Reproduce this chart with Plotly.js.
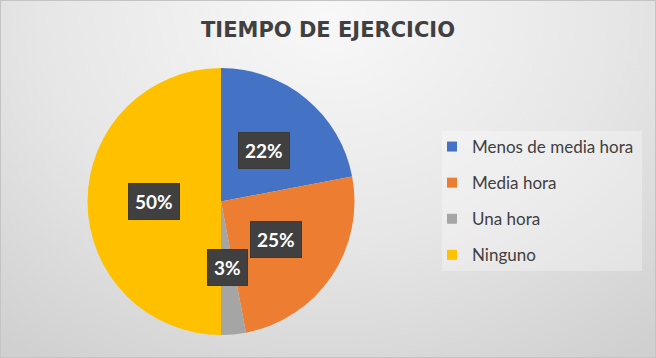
<!DOCTYPE html>
<html>
<head>
<meta charset="utf-8">
<script src="https://cdn.plot.ly/plotly-3.0.1.min.js"></script>
<style>
  html, body { margin: 0; padding: 0; }
  body { width: 656px; height: 358px; overflow: hidden; }
  #frame {
    position: absolute; left: 0; top: 0; width: 654px; height: 356px;
    border: 1px solid #c4c4c4;
    background: radial-gradient(ellipse 80% 115% at 50% 5%, #f8f8f8 0%, #e6e6e6 55%, #d0d0d0 100%);
  }
  #chart { position: absolute; left: -1px; top: -1px; width: 656px; height: 358px; }
</style>
</head>
<body>
<div id="frame"><div id="chart"></div></div>
<script>
// ---- data ----
const categories = ["Menos de media hora", "Media hora", "Una hora", "Ninguno"];
const values = [22, 25, 3, 50];
const colors = ["#4472C4", "#ED7D31", "#A5A5A5", "#FFC000"];
const titleText = "TIEMPO DE EJERCICIO";

// ---- geometry ----
const W = 656, H = 358;
const cx = 221, cy = 201.5, R = 133.5;
const domX = [(cx - R) / W, (cx + R) / W];
const domY = [1 - (cy + R) / H, 1 - (cy - R) / H];

const total = values.reduce((a, b) => a + b, 0);

// percentage label boxes, placed at mid-angle of each slice
const annotations = [];
let cum = 0;
values.forEach((v, i) => {
  const mid = (cum + v / 2) / total * 2 * Math.PI;
  cum += v;
  const rr = 0.5 * R;
  const px = cx + rr * Math.sin(mid);
  const py = cy - rr * Math.cos(mid);
  annotations.push({
    x: px / W, y: 1 - py / H, xref: "paper", yref: "paper",
    text: Math.round(v / total * 100) + "%",
    showarrow: false,
    font: { family: "Lato, 'Open Sans', sans-serif", size: 19, color: "#ffffff", weight: "bold" },
    bgcolor: "#404040", bordercolor: "#3a3a3a", borderwidth: 1, borderpad: 6,
    xanchor: "center", yanchor: "middle"
  });
});

const traces = [{
  type: "pie",
  labels: categories,
  values: values,
  marker: { colors: colors, line: { width: 0 } },
  sort: false,
  direction: "clockwise",
  rotation: 0,
  textinfo: "none",
  hoverinfo: "label+percent",
  showlegend: false,
  domain: { x: domX, y: domY }
}];

// legend entries
categories.forEach((c, i) => {
  traces.push({
    type: "scatter", mode: "markers", x: [null], y: [null],
    name: c, legendgroup: "g" + i, showlegend: true,
    marker: { symbol: "square", size: 10, color: colors[i] },
    hoverinfo: "skip"
  });
});

const layout = {
  width: W, height: H,
  margin: { l: 0, r: 0, t: 0, b: 0 },
  paper_bgcolor: "rgba(0,0,0,0)",
  plot_bgcolor: "rgba(0,0,0,0)",
  title: {
    text: "<b>" + titleText + "</b>",
    x: 0.5, xanchor: "center", y: 1 - 30 / H, yanchor: "middle",
    font: { family: "'DejaVu Sans', sans-serif", size: 21, color: "#404040" }
  },
  xaxis: { visible: false, fixedrange: true },
  yaxis: { visible: false, fixedrange: true },
  showlegend: true,
  legend: {
    x: 432 / W, xanchor: "left", y: 1 - 129 / H, yanchor: "top",
    bgcolor: "rgba(0,0,0,0)", borderwidth: 0,
    font: { family: "Lato, sans-serif", size: 17, color: "#404040" },
    tracegroupgap: 11, traceorder: "grouped"
  },
  shapes: [{
    type: "rect", xref: "paper", yref: "paper",
    x0: 442 / W, x1: 642 / W, y0: 1 - 271 / H, y1: 1 - 131 / H,
    fillcolor: "rgba(255,255,255,0.3)", line: { width: 0 }, layer: "below"
  }],
  annotations: annotations
};

Plotly.newPlot("chart", traces, layout, { displayModeBar: false, staticPlot: true });
</script>
</body>
</html>
